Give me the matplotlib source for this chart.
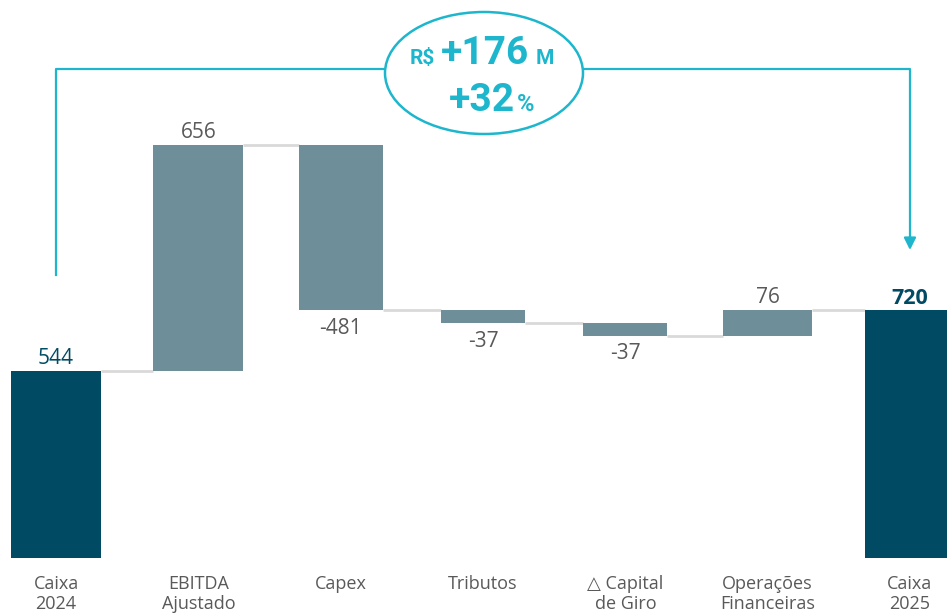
import matplotlib
matplotlib.use("Agg")
import matplotlib.pyplot as plt
from matplotlib.patches import Ellipse

plt.rcParams['font.family'] = ['Open Sans', 'DejaVu Sans']

# ---- data ----
categories = ["Caixa\n2024", "EBITDA\nAjustado", "Capex", "Tributos",
              "△ Capital\nde Giro", "Operações\nFinanceiras", "Caixa\n2025"]
values = [544, 656, -481, -37, -37, 76, 720]
value_labels = ["544", "656", "-481", "-37", "-37", "76", "720"]
delta_text = "+176"
pct_text = "+32"

# ---- style ----
DARK = "#004B63"
MID = "#6E8F9A"
CYAN = "#1DB6CC"
GRAY_TXT = "#595959"
CONN = "#D9D9D9"
widths = [0.63, 0.63, 0.59, 0.59, 0.59, 0.63, 0.63]

W, H = 947, 614
fig = plt.figure(figsize=(W / 100, H / 100), dpi=100)
base_px = 558
scale = 0.3445  # px per unit
ax = fig.add_axes([0, (H - base_px) / H, 1, base_px / H])
ax.set_ylim(0, base_px / scale)
spacing = 142.33
ax.set_xlim(-56 / spacing, (W - 56) / spacing)
for s in ax.spines.values():
    s.set_visible(False)
ax.set_yticks([])

n = len(values)
bottoms, tops = [], []
running = 0
for i, v in enumerate(values):
    if i == 0 or i == n - 1:
        b, t = 0, v
        running = v
    else:
        b = running if v >= 0 else running + v
        t = running + v if v >= 0 else running
        running += v
    bottoms.append(b)
    tops.append(t)

for i, v in enumerate(values):
    color = DARK if i in (0, n - 1) else MID
    ax.bar(i, tops[i] - bottoms[i], bottom=bottoms[i], width=widths[i],
           color=color, zorder=3)

# connectors
running = 0
levels = []
for i, v in enumerate(values[:-1]):
    running = v if i == 0 else running + v
    levels.append(running)
for i, lvl in enumerate(levels):
    ax.plot([i + widths[i] / 2, i + 1 - widths[i + 1] / 2], [lvl, lvl],
            color=CONN, lw=2, zorder=2, solid_capstyle='butt')

# value labels
for i, v in enumerate(values):
    if i == 0:
        ax.text(i, tops[i] + 4, value_labels[i], ha='center', va='bottom',
                fontsize=15, color=DARK)
    elif i == n - 1:
        ax.text(i, tops[i] + 4, value_labels[i], ha='center', va='bottom',
                fontsize=15.5, color=DARK, fontweight='bold')
    elif v >= 0:
        ax.text(i, tops[i] + 4, value_labels[i], ha='center', va='bottom',
                fontsize=15, color=GRAY_TXT)
    else:
        ax.text(i, bottoms[i] - 22, value_labels[i], ha='center', va='top',
                fontsize=15, color=GRAY_TXT)

ax.set_xticks(range(n))
ax.set_xticklabels(categories, fontsize=13, color=GRAY_TXT, linespacing=1.15)
ax.tick_params(axis='x', length=0, pad=12)

# bracket annotation
y_low_left = (base_px - 275) / scale
y_top = (base_px - 69) / scale
y_arrow = (base_px - 250) / scale
ax.plot([0, 0, n - 1, n - 1], [y_low_left, y_top, y_top, y_arrow + 25],
        color=CYAN, lw=1.6, zorder=4, clip_on=False)
ax.annotate("", xy=(n - 1, y_arrow), xytext=(n - 1, y_arrow + 40),
            arrowprops=dict(arrowstyle='-|>', color=CYAN, lw=1.6,
                            mutation_scale=18, shrinkA=0, shrinkB=0),
            zorder=5)

ell_cx = (484 - 56) / spacing
ell_cy = (base_px - 73) / scale
ax.add_patch(Ellipse((ell_cx, ell_cy), 198 / spacing, 122 / scale,
                     facecolor='white', edgecolor=CYAN, lw=1.8, zorder=6,
                     clip_on=False))

# texts inside the ellipse, laid out piece by piece
def layout(pieces, cx_px, base_y_px, gap=6):
    fig.canvas.draw()
    r = fig.canvas.get_renderer()
    objs = []
    for txt, size in pieces:
        t = fig.text(0, 0, txt, fontsize=size, fontweight='bold', color=CYAN,
                     family=['Roboto', 'DejaVu Sans'], va='baseline',
                     ha='left', zorder=10)
        objs.append(t)
    ws = [o.get_window_extent(r).width for o in objs]
    total = sum(ws) + gap * (len(ws) - 1)
    x = cx_px - total / 2
    for o, w in zip(objs, ws):
        o.set_position((x / W, 1 - base_y_px / H))
        x += w + gap

layout([("R$", 15), (delta_text, 28), ("M", 15)], 482, 64)
layout([(pct_text, 28), ("%", 17)], 492, 111, gap=2)

fig.savefig("out.png", dpi=100)
